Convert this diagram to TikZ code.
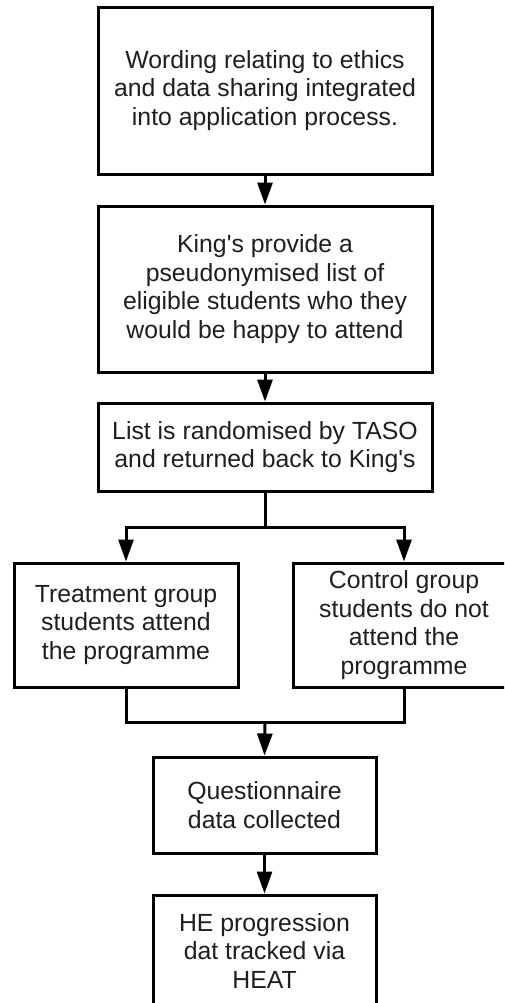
\documentclass[tikz,border=0pt]{standalone}
\usepackage{fontspec}
\newfontfamily\lsans{Liberation Sans}
\usetikzlibrary{arrows.meta}
\begin{document}
\begin{tikzpicture}[x=0.75pt,y=-0.75pt,
  box/.style={draw=black, line width=2.25pt, fill=white, align=center, inner sep=0pt,
    font=\lsans\fontsize{18.6}{21.5}\selectfont, text=black!88},
  conn/.style={line width=2.25pt, draw=black},
  arr/.style={conn, -{Triangle[length=16.5pt,width=11.25pt]}}]
\useasboundingbox (0,0) rectangle (504,1003);
\clip (0,0) rectangle (504,1003);
\fill[white] (0,0) rectangle (504,1003);
\node[box, minimum width=250.5pt, minimum height=125.25pt] (b1) at (265,90.5)
  {Wording relating to ethics\\and data sharing integrated\\into application process.};
\node[box, minimum width=250.5pt, minimum height=124.5pt] (b2) at (265,289)
  {King's provide a\\pseudonymised list of\\eligible students who they\\would be happy to attend};
\node[box, minimum width=250.5pt, minimum height=66pt] (b3) at (265,447)
  {List is randomised by TASO\\and returned back to King's};
\node[box, minimum width=168pt, minimum height=93pt] (treat) at (126,625)
  {Treatment group\\students attend\\the programme};
\node[box, minimum width=166.5pt, minimum height=93pt] (ctrl) at (404,625)
  {Control group\\students do not\\attend the\\programme};
\node[box, minimum width=167.25pt, minimum height=72pt] (quest) at (264.5,805)
  {Questionnaire\\data collected};
\node[box, minimum width=167.25pt, minimum height=84pt] (heat) at (264.5,951)
  {HE progression\\dat tracked via\\HEAT};
\coordinate (split) at (265,527);
\coordinate (merge) at (265,722);
\draw[arr] (b1) -- (b2);
\draw[arr] (b2) -- (b3);
\draw[conn] (b3.south) -- (split);
\draw[arr] (split) -| (treat.north);
\draw[arr] (split) -| (ctrl.north);
\draw[conn] (treat.south) |- (merge);
\draw[conn] (ctrl.south) |- (merge);
\draw[arr] (merge) -- (quest.north);
\draw[arr] (quest) -- (heat);
\end{tikzpicture}
\end{document}
